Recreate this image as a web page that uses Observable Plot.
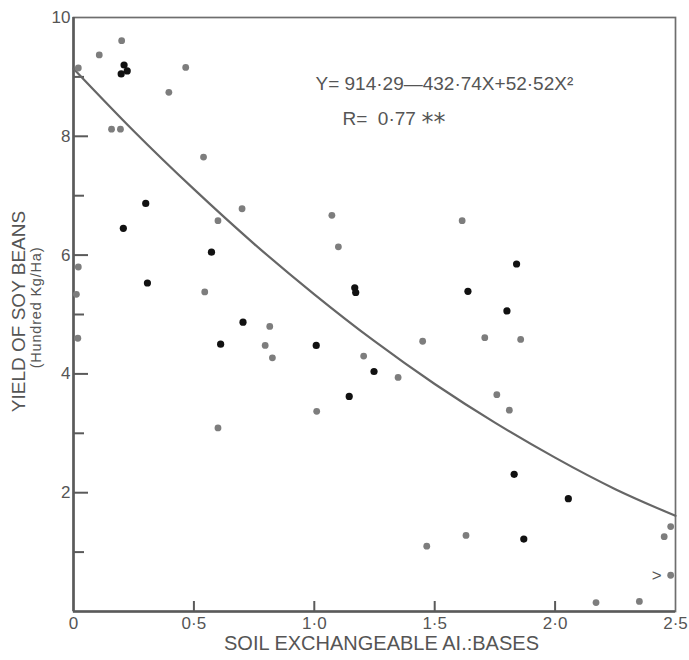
<!DOCTYPE html>
<html>
<head>
<meta charset="utf-8">
<script src="https://cdn.jsdelivr.net/npm/d3@7"></script>
<script src="https://cdn.jsdelivr.net/npm/@observablehq/plot@0.6"></script>
<style>
  html, body { margin: 0; padding: 0; background: #fff; }
  svg { display: block; }
</style>
</head>
<body>
<div id="chart"></div>
<script>
// ---- data ----
const grayX = [0.20, 0.107, 0.466, 0.396, 0.158, 0.195, 0.54, 0.70, 0.60, 0.02, 0.012, 0.018, 0.545, 0.60,
  1.10, 1.073, 1.614, 0.815, 0.796, 0.826, 1.45, 1.205, 1.348, 1.01, 1.708, 1.857, 1.758, 1.81,
  1.63, 1.467, 2.48, 2.453, 2.48, 2.17, 2.35, 0.02];
const grayY = [9.61, 9.37, 9.16, 8.74, 8.12, 8.12, 7.65, 6.78, 6.58, 5.80, 5.34, 4.60, 5.38, 3.09,
  6.14, 6.67, 6.58, 4.80, 4.48, 4.27, 4.55, 4.30, 3.94, 3.37, 4.61, 4.58, 3.65, 3.39,
  1.28, 1.10, 1.43, 1.26, 0.61, 0.15, 0.17, 9.15];
const grayMark = grayX.map((d, i) => (i === 32 ? ">" : ""));

const blackX = [0.21, 0.198, 0.223, 0.30, 0.207, 0.307, 0.573, 0.704, 0.611, 1.168, 1.172, 1.638,
  1.008, 1.248, 1.145, 1.84, 1.80, 1.83, 2.055, 1.87];
const blackY = [9.20, 9.05, 9.10, 6.87, 6.45, 5.53, 6.05, 4.87, 4.50, 5.45, 5.37, 5.39,
  4.48, 4.04, 3.62, 5.85, 5.06, 2.31, 1.90, 1.22];

// fitted curve
const curveX = [0, 0.25, 0.5, 0.75, 1.0, 1.25, 1.5, 1.75, 2.0, 2.25, 2.5];
const curveY = [9.14, 8.09, 7.11, 6.19, 5.34, 4.55, 3.83, 3.18, 2.59, 2.06, 1.61];

const xTickValues = [0, 0.5, 1.0, 1.5, 2.0, 2.5];
const xInnerTicks = [0.5, 1.0, 1.5, 2.0];
const yLabelValues = [2, 4, 6, 8, 10];
const yMajorTicks = [2, 4, 6, 8];
const yMinorTicks = [1, 3, 5, 7, 9];

const xTitle = "SOIL EXCHANGEABLE AI.:BASES";
const yTitle = "YIELD OF SOY BEANS";
const ySubtitle = "(Hundred Kg/Ha)";
const equation = "Y= 914·29—432·74X+52·52X²";
const rText = "R=  0·77";
const rStars = "**";

// ---- build ----
const W = 689, H = 660;
const mL = 73, mR = 14, mT = 17, mB = 49;
const plotW = W - mL - mR, plotH = H - mT - mB;

const gray = grayX.map((x, i) => ({x, y: grayY[i], m: grayMark[i]}));
const black = blackX.map((x, i) => ({x, y: blackY[i]}));
const curve = curveX.map((x, i) => ({x, y: curveY[i]}));
const fmtX = d => (d === 0 ? "0" : d3.format(".1f")(d).replace(".", "·"));
const fmtY = d => String(d);

const axisColor = "#5a5a5a";
const textColor = "#555";

const chart = Plot.plot({
  width: W, height: H,
  marginLeft: mL, marginRight: mR, marginTop: mT, marginBottom: mB,
  x: {domain: [0, 2.5], axis: null},
  y: {domain: [0, 10], axis: null},
  style: {fontFamily: "'Liberation Sans', Arial, sans-serif", fontSize: "17px", color: textColor, background: "#fff"},
  marks: [
    Plot.frame({stroke: "#6e6e6e", strokeWidth: 1.7}),
    Plot.ruleX([0], {stroke: axisColor, strokeWidth: 2.6}),
    Plot.ruleY([0], {stroke: axisColor, strokeWidth: 2.6}),
    // inward ticks
    Plot.tickX(xInnerTicks, {x: d => d, stroke: axisColor, strokeWidth: 2, insetTop: plotH - 10}),
    Plot.tickY(yMajorTicks, {y: d => d, stroke: axisColor, strokeWidth: 2, insetRight: plotW - 15}),
    Plot.tickY(yMinorTicks, {y: d => d, stroke: axisColor, strokeWidth: 2, insetRight: plotW - 11}),
    // tick labels
    Plot.axisX(xTickValues, {tickSize: 0, tickPadding: 5, tickFormat: fmtX, label: null, fontSize: 17, fill: textColor}),
    Plot.axisY(yLabelValues, {tickSize: 0, tickPadding: 3, tickFormat: fmtY, label: null, fontSize: 17, fill: textColor}),
    // axis titles
    Plot.text([xTitle], {frameAnchor: "bottom", textAnchor: "middle", dx: 7, dy: 38, fontSize: 20, fill: textColor}),
    Plot.text([yTitle], {frameAnchor: "left", textAnchor: "middle", rotate: -90, dx: -55, dy: -3, fontSize: 19, fill: textColor}),
    Plot.text([ySubtitle], {frameAnchor: "left", textAnchor: "middle", rotate: -90, dx: -37, dy: -7, fontSize: 14.5, fill: textColor}),
    // regression annotation
    Plot.text([equation], {frameAnchor: "top-left", textAnchor: "start", dx: 242, dy: 59, fontSize: 19, fill: textColor}),
    Plot.text([rText], {frameAnchor: "top-left", textAnchor: "start", dx: 269, dy: 94, fontSize: 19, fill: textColor}),
    Plot.text([rStars], {frameAnchor: "top-left", textAnchor: "start", dx: 348, dy: 95, fontSize: 24, fontFamily: "DejaVu Sans", fill: textColor}),
    // curve
    Plot.line(curve, {x: "x", y: "y", curve: "natural", stroke: "#666", strokeWidth: 2.2}),
    // points
    Plot.dot(gray, {x: "x", y: "y", r: 3.4, fill: "#7d7d7d", stroke: null}),
    Plot.dot(black, {x: "x", y: "y", r: 3.6, fill: "#111", stroke: null}),
    Plot.text(gray.filter(d => d.m), {x: "x", y: "y", text: "m", dx: -14, fontSize: 17, fill: textColor})
  ]
});

// letter spacing tweaks for the lettering-style titles
d3.select(chart).selectAll("text")
  .filter(function() { return this.textContent === ySubtitle; })
  .style("letter-spacing", "0.8px");
d3.select(chart).selectAll("text")
  .filter(function() { return this.textContent === rText; })
  .attr("xml:space", "preserve").style("white-space", "pre");

document.getElementById("chart").appendChild(chart);
</script>
</body>
</html>
